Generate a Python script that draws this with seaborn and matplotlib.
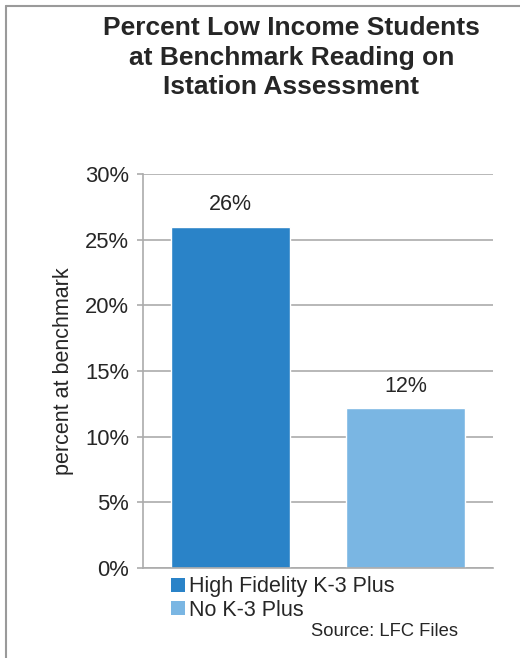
import pandas as pd
import seaborn as sns
import matplotlib.pyplot as plt
import matplotlib.ticker as ticker
from matplotlib.patches import Patch
from matplotlib.lines import Line2D

# Chart data
groups = ['High Fidelity K-3 Plus', 'No K-3 Plus']
percents = [26.0, 12.2]
bar_labels = ['26%', '12%']
colors = ['#2A83C8', '#7AB6E3']

plot_data = pd.DataFrame({'Group': groups, 'Percent': percents})

sns.set_style('white')
plt.rcParams['font.family'] = ['Liberation Sans', 'DejaVu Sans']

fig = plt.figure(figsize=(5.2, 6.58), dpi=100)
ax = fig.add_axes([0.275, 0.1368, 0.673, 0.5988])

sns.barplot(data=plot_data, x='Group', y='Percent', hue='Group', palette=colors,
            width=0.68, saturation=1, legend=False, ax=ax)

for i, lab in enumerate(bar_labels):
    ax.annotate(lab, (i, percents[i]), xytext=(0, 8), textcoords='offset points',
                ha='center', va='bottom', fontsize=15.5)

ax.set_ylim(0, 30)
ax.set_xlim(-0.5, 1.5)
ax.yaxis.set_major_locator(ticker.MultipleLocator(5))
ax.yaxis.set_major_formatter(ticker.FuncFormatter(lambda v, p: f'{v:.0f}%'))
ax.yaxis.grid(True, color='#ABABAB', linewidth=1.2)
ax.set_axisbelow(True)
ax.set_xticks([])
ax.set_xlabel('')
ax.set_ylabel('percent at benchmark', fontsize=15.5, labelpad=8)
ax.tick_params(axis='y', labelsize=15.8, left=True, length=4, color='#ABABAB',
               width=1.2, pad=6)
for side in ['top', 'right']:
    ax.spines[side].set_visible(False)
for side in ['left', 'bottom']:
    ax.spines[side].set_color('#ABABAB')
    ax.spines[side].set_linewidth(1.2)

fig.text(0.56, 0.975, 'Percent Low Income Students\nat Benchmark Reading on\nIstation Assessment',
         ha='center', va='top', fontsize=19, fontweight='bold', linespacing=1.27)

handles = [Patch(facecolor=c, edgecolor='none') for c in colors]
leg = fig.legend(handles, groups, loc='upper left', frameon=False, fontsize=15.5,
                 handlelength=0.65, handleheight=0.65, handletextpad=0.2,
                 labelspacing=0.1, borderpad=0, borderaxespad=0)
leg.set_bbox_to_anchor((0.328, 0.124), transform=fig.transFigure)

fig.text(0.881, 0.028, 'Source: LFC Files', ha='right', va='bottom', fontsize=13.2)

# thin frame on left and top edges
fig.add_artist(Line2D([0.011, 0.011], [0, 0.991], transform=fig.transFigure,
                      color='#9A9A9A', linewidth=1.5))
fig.add_artist(Line2D([0.011, 1], [0.991, 0.991], transform=fig.transFigure,
                      color='#9A9A9A', linewidth=1.5))

plt.savefig('out.png', dpi=100)
